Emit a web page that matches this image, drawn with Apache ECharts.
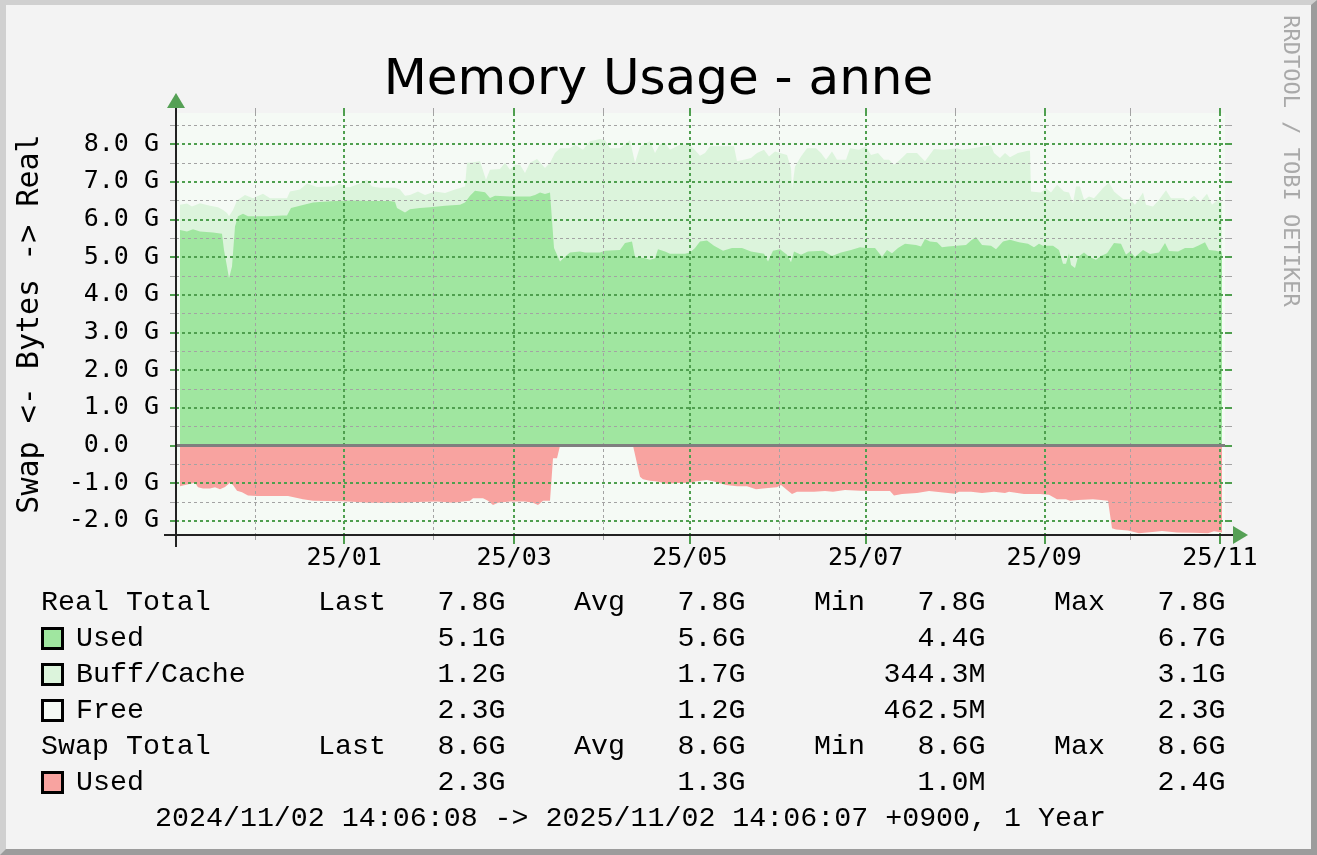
<!DOCTYPE html>
<html>
<head>
<meta charset="utf-8">
<script src="https://cdn.jsdelivr.net/npm/echarts@6/dist/echarts.min.js"></script>
<style>
html,body{margin:0;padding:0;background:#F3F3F3;}
#wrap{position:relative;width:1317px;height:855px;overflow:hidden;}
#chart{position:absolute;left:0;top:0;width:1317px;height:855px;}
#frame{position:absolute;left:0;top:0;width:1317px;height:855px;box-sizing:border-box;border-style:solid;border-width:5px 6px 6px 6px;border-color:#D0D0D0 #9C9C9C #9C9C9C #D0D0D0;pointer-events:none;}
</style>
</head>
<body>
<div id="wrap"><div id="chart"></div><div id="frame"></div></div>
<script>
// ---------------- DATA ----------------
const titleText = 'Memory Usage - anne';
const axisTitle = 'Swap <- Bytes -> Real';
const watermark = 'RRDTOOL / TOBI OETIKER';
const footerText = '2024/11/02 14:06:08 -> 2025/11/02 14:06:07 +0900, 1 Year';

// start of the period: 2024/11/02 14:06:08 +0900, x values are day offsets from it
const START_UTC = Date.UTC(2024, 10, 2, 5, 6, 8);

const majorMonths = ['2025-01', '2025-03', '2025-05', '2025-07', '2025-09', '2025-11'];
const majorLabels = ['25/01', '25/03', '25/05', '25/07', '25/09', '25/11'];
const minorMonths = ['2024-12', '2025-02', '2025-04', '2025-06', '2025-08', '2025-10'];

const yMajor = [-2, -1, 0, 1, 2, 3, 4, 5, 6, 7, 8];
const yTickLabels = ['-2.0 G', '-1.0 G', '0.0  ', '1.0 G', '2.0 G', '3.0 G', '4.0 G', '5.0 G', '6.0 G', '7.0 G', '8.0 G'];
const yMinor = [-1.5, -0.5, 0.5, 1.5, 2.5, 3.5, 4.5, 5.5, 6.5, 7.5, 8.5];

// Real memory "Used" (GiB)
const usedDay = [2.43, 4.86, 6.94, 9.37, 13.88, 17.01, 17.70, 18.74, 19.44, 20.48, 21.52, 22.56, 24.30, 26.03, 32.63, 38.18, 39.57, 40.96, 44.08, 48.59, 54.50, 61.44, 68.38, 75.32, 77.06, 77.75, 80.53, 82.26, 85.73, 89.20, 94.41, 99.62, 101.35, 103.09, 104.83, 108.30, 110.03, 111.77, 116.97, 123.92, 125.65, 127.39, 129.12, 130.86, 131.55, 132.25, 134.33, 136.06, 137.80, 141.27, 143.01, 148.21, 149.95, 155.15, 156.89, 159.32, 160.36, 163.83, 165.57, 167.30, 168.34, 170.77, 172.51, 177.72, 179.45, 181.19, 182.92, 185.35, 187.78, 190.91, 194.03, 197.50, 200.63, 205.14, 206.53, 208.26, 210.69, 213.12, 214.51, 215.55, 217.98, 220.41, 225.62, 228.74, 231.87, 235.34, 238.46, 240.54, 243.67, 246.10, 247.83, 249.57, 251.65, 254.08, 257.90, 259.63, 261.02, 262.76, 265.19, 266.92, 269.00, 272.13, 275.25, 276.99, 278.72, 280.81, 283.93, 285.67, 288.10, 290.52, 293.65, 296.77, 298.85, 300.59, 301.98, 305.45, 307.53, 308.92, 309.96, 311.00, 311.70, 313.09, 314.13, 316.21, 317.94, 320.37, 322.11, 324.19, 326.62, 329.05, 330.79, 332.18, 333.91, 336.69, 339.12, 342.24, 344.33, 345.71, 348.84, 351.27, 354.04, 355.78, 358.21, 359.60, 362.03, 364.11];
const usedVal = [5.72, 5.68, 5.74, 5.68, 5.65, 5.62, 5.19, 4.75, 4.44, 4.75, 5.81, 6.08, 6.15, 6.08, 6.08, 6.10, 6.10, 6.30, 6.36, 6.45, 6.48, 6.50, 6.49, 6.49, 6.47, 6.30, 6.18, 6.27, 6.30, 6.32, 6.36, 6.39, 6.45, 6.63, 6.76, 6.72, 6.57, 6.63, 6.61, 6.61, 6.65, 6.71, 6.67, 6.71, 6.71, 5.24, 4.88, 5.01, 5.12, 5.15, 5.12, 5.12, 5.17, 5.19, 5.37, 5.41, 5.01, 4.97, 4.93, 4.97, 5.21, 5.15, 5.09, 5.09, 5.12, 5.24, 5.41, 5.44, 5.30, 5.17, 5.24, 5.24, 5.15, 5.09, 4.88, 5.17, 5.21, 5.06, 4.86, 5.15, 5.06, 5.15, 5.17, 5.03, 5.12, 5.19, 5.26, 5.24, 5.24, 5.01, 5.19, 5.10, 5.24, 5.35, 5.32, 5.28, 5.48, 5.41, 5.39, 5.26, 5.28, 5.30, 5.32, 5.44, 5.53, 5.32, 5.30, 5.21, 5.41, 5.46, 5.39, 5.35, 5.26, 5.35, 5.30, 5.30, 5.19, 4.82, 4.82, 5.10, 4.79, 4.71, 5.00, 5.12, 5.01, 4.93, 5.03, 5.10, 5.37, 5.35, 5.06, 5.15, 5.00, 5.19, 5.08, 5.12, 5.37, 5.16, 5.15, 5.24, 5.24, 5.30, 5.39, 5.19, 5.17, 5.12];

// Top of the Buff/Cache band (Used + Buff/Cache, GiB)
const buffTopDay = [2.43, 4.86, 6.59, 9.37, 12.84, 15.62, 17.36, 18.74, 19.44, 20.83, 22.21, 24.99, 27.77, 31.24, 33.67, 39.57, 40.61, 44.08, 46.51, 49.98, 55.54, 57.97, 59.70, 61.44, 64.91, 67.34, 69.07, 71.85, 77.06, 78.79, 80.53, 82.26, 85.04, 87.47, 90.94, 94.41, 97.88, 101.35, 102.05, 103.78, 106.56, 108.64, 110.03, 113.50, 115.24, 116.97, 118.71, 120.44, 122.18, 123.92, 126.35, 129.12, 130.86, 132.59, 134.33, 137.80, 139.53, 142.31, 144.74, 148.21, 149.95, 151.68, 155.15, 158.62, 160.36, 162.10, 165.57, 167.30, 169.04, 170.77, 172.51, 175.98, 178.06, 179.80, 180.84, 182.92, 184.66, 186.39, 194.72, 195.76, 198.19, 200.63, 202.71, 205.14, 206.87, 208.96, 210.69, 213.12, 214.51, 214.86, 215.90, 217.98, 220.06, 223.19, 224.92, 226.66, 228.74, 230.48, 233.60, 234.99, 238.11, 240.54, 242.28, 244.71, 246.79, 248.52, 250.26, 252.34, 254.77, 258.24, 261.02, 264.14, 267.62, 272.13, 273.86, 277.68, 281.50, 283.93, 284.97, 287.05, 288.79, 290.52, 293.30, 296.77, 297.47, 297.81, 301.28, 303.02, 304.75, 306.84, 309.27, 311.00, 312.39, 313.43, 314.82, 316.21, 317.94, 319.68, 321.76, 322.80, 324.89, 326.62, 329.75, 332.18, 333.91, 336.69, 337.73, 340.16, 342.24, 344.67, 346.41, 350.92, 351.96, 354.39, 356.47, 358.90, 360.64, 362.72, 364.11];
const buffTopVal = [6.39, 6.42, 6.34, 6.43, 6.36, 6.32, 6.25, 6.17, 6.08, 6.25, 6.50, 6.65, 6.56, 6.68, 6.56, 6.56, 6.74, 6.79, 6.95, 6.86, 6.87, 6.95, 6.85, 6.85, 6.96, 7.05, 6.87, 6.84, 6.84, 6.79, 6.63, 6.65, 6.74, 6.65, 6.74, 6.70, 6.79, 6.87, 7.50, 7.51, 7.54, 7.05, 7.32, 7.34, 7.50, 7.32, 7.45, 7.45, 7.23, 7.50, 7.60, 7.36, 7.50, 7.76, 7.89, 7.89, 7.98, 7.85, 8.07, 8.13, 8.10, 7.89, 7.89, 8.10, 7.50, 7.93, 8.07, 7.76, 8.00, 8.03, 7.85, 7.98, 7.98, 7.94, 7.87, 7.69, 7.76, 7.94, 7.94, 7.54, 7.58, 7.63, 7.76, 7.85, 7.67, 7.80, 7.76, 7.71, 7.36, 6.79, 7.40, 7.67, 7.89, 7.89, 7.76, 7.58, 7.80, 7.58, 7.58, 7.89, 7.85, 7.94, 7.71, 7.76, 7.58, 7.58, 7.45, 7.58, 7.76, 7.76, 7.54, 7.87, 7.85, 7.89, 7.85, 7.89, 7.94, 7.96, 7.76, 7.63, 7.76, 7.65, 7.76, 7.82, 7.82, 6.74, 6.71, 6.83, 6.71, 6.92, 6.74, 6.71, 6.43, 6.87, 6.87, 6.52, 6.61, 6.56, 6.74, 6.83, 6.98, 6.74, 6.54, 6.54, 6.39, 6.71, 6.39, 6.34, 6.52, 6.77, 6.56, 6.56, 6.47, 6.63, 6.47, 6.68, 6.39, 6.52, 6.45];

// Swap "Used" (GiB, drawn below zero)
const swapDay = [2.43, 4.17, 7.64, 8.68, 10.41, 12.84, 14.58, 16.31, 18.05, 19.78, 20.83, 22.21, 23.95, 26.03, 29.16, 33.67, 39.92, 40.61, 45.12, 48.59, 59.01, 63.87, 68.38, 74.28, 79.83, 84.69, 91.63, 97.19, 100.66, 103.09, 104.13, 107.60, 109.34, 111.07, 112.81, 116.97, 122.18, 124.96, 126.69, 128.43, 130.86, 131.55, 131.90, 133.29, 134.33, 159.67, 162.10, 163.14, 165.57, 168.00, 171.47, 174.94, 179.45, 181.19, 185.35, 187.78, 191.95, 195.76, 199.24, 202.36, 206.53, 209.65, 211.04, 213.12, 214.86, 216.59, 222.49, 226.31, 229.09, 233.25, 238.46, 242.28, 248.87, 250.26, 253.04, 258.24, 262.41, 269.00, 271.43, 272.82, 276.99, 280.81, 284.97, 288.79, 290.18, 295.38, 300.94, 304.06, 306.84, 309.96, 311.35, 314.13, 319.33, 322.11, 324.54, 325.23, 325.93, 327.32, 331.48, 335.30, 340.85, 343.28, 348.49, 354.04, 359.25, 361.33, 364.11];
const swapVal = [1.08, 1.05, 0.99, 1.11, 1.14, 1.14, 1.11, 1.16, 1.10, 0.99, 1.05, 1.20, 1.24, 1.33, 1.34, 1.34, 1.34, 1.39, 1.43, 1.47, 1.48, 1.50, 1.52, 1.52, 1.52, 1.50, 1.49, 1.52, 1.49, 1.47, 1.40, 1.40, 1.47, 1.58, 1.52, 1.49, 1.49, 1.52, 1.58, 1.47, 1.47, 1.47, 0.34, 0.34, 0.01, 0.01, 0.83, 0.90, 0.94, 0.96, 1.02, 1.00, 0.99, 0.96, 0.92, 0.96, 1.05, 1.08, 1.08, 1.16, 1.13, 1.11, 1.05, 1.18, 1.29, 1.23, 1.23, 1.21, 1.23, 1.18, 1.20, 1.21, 1.21, 1.33, 1.29, 1.26, 1.21, 1.26, 1.28, 1.23, 1.23, 1.26, 1.23, 1.26, 1.23, 1.29, 1.29, 1.31, 1.43, 1.43, 1.47, 1.45, 1.43, 1.45, 1.47, 1.47, 2.20, 2.23, 2.26, 2.33, 2.29, 2.27, 2.31, 2.32, 2.33, 2.28, 2.31];

// Legend / statistics
const statHeads = ['Last', 'Avg', 'Min', 'Max'];
const realTotalStats = ['7.8G', '7.8G', '7.8G', '7.8G'];
const usedStats = ['5.1G', '5.6G', '4.4G', '6.7G'];
const buffStats = ['1.2G', '1.7G', '344.3M', '3.1G'];
const freeStats = ['2.3G', '1.2G', '462.5M', '2.3G'];
const swapTotalStats = ['8.6G', '8.6G', '8.6G', '8.6G'];
const swapUsedStats = ['2.3G', '1.3G', '1.0M', '2.4G'];

// ---------------- STYLE / LAYOUT ----------------
const DAY = 86400000;
const C_USED = '#A0E6A0', C_BUFF = '#DCF4DC', C_FREE = '#F5FAF5', C_SWAP = '#F8A3A0';
const C_GRID_MAJOR = '#4F9F4F', C_GRID_MINOR = '#A3A3A3', C_AXIS = '#222222';
const PLOT = { left: 176, right: 1225, top: 113, bottom: 535 };
const X_MIN = START_UTC + 1.041 * DAY, X_MAX = START_UTC + 365.15 * DAY;
const Y_MIN = -2.377, Y_MAX = 8.823;
const LEGEND_SIZE = 28.3;

function monthStart(s) { const p = s.split('-').map(Number); return Date.UTC(p[0], p[1] - 1, 1) - 9 * 3600000; }
const majorTs = majorMonths.map(monthStart);
const minorTs = minorMonths.map(monthStart);
const toPairs = (days, vals, sign) => days.map((d, i) => [START_UTC + d * DAY, sign * vals[i]]);

const monoFont = 'DejaVu Sans Mono';
const legendFont = 'Liberation Mono';

function timeAxis(extra) {
  return Object.assign({
    type: 'value', min: X_MIN, max: X_MAX, z: 3, scale: true,
    axisLine: { show: false, onZero: false },
    axisLabel: { show: false }, axisTick: { show: false }, splitLine: { show: false }
  }, extra);
}
function valAxis(extra) {
  return Object.assign({
    type: 'value', min: Y_MIN, max: Y_MAX, z: 3,
    axisLine: { show: false, onZero: false },
    axisLabel: { show: false }, axisTick: { show: false }, splitLine: { show: false }
  }, extra);
}

// ---------------- GRAPHIC (text, legend, axis decorations) ----------------
function txt(text, x, y, opts) {
  const o = opts || {};
  const align = o.align || 'left';
  const size = o.size || LEGEND_SIZE;
  const fam = o.family || legendFont;
  return {
    type: 'text', x: x, y: y, rotation: o.rotation || 0, z: 100, silent: true,
    style: {
      text: text, x: 0, y: 0,
      fontFamily: fam, fontSize: size,
      font: size + 'px "' + fam + '"',
      fill: o.color || '#000',
      align: align, verticalAlign: 'middle',
      textAlign: align, textVerticalAlign: 'middle'
    }
  };
}

const graphics = [];
graphics.push({ type: 'line', z: 99, silent: true, shape: { x1: PLOT.left, y1: 106, x2: PLOT.left, y2: 547 }, style: { stroke: C_AXIS, lineWidth: 2 } });
graphics.push({ type: 'line', z: 99, silent: true, shape: { x1: 164, y1: PLOT.bottom, x2: 1234, y2: PLOT.bottom }, style: { stroke: C_AXIS, lineWidth: 2 } });
graphics.push({ type: 'polygon', z: 100, silent: true, shape: { points: [[PLOT.left - 9, 108], [PLOT.left + 9, 108], [PLOT.left, 93]] }, style: { fill: '#55A055' } });
graphics.push({ type: 'polygon', z: 100, silent: true, shape: { points: [[1233, PLOT.bottom - 9], [1233, PLOT.bottom + 9], [1248, PLOT.bottom]] }, style: { fill: '#55A055' } });

graphics.push(txt(axisTitle, 30.5, 324, { family: monoFont, size: 30, align: 'center', rotation: Math.PI / 2 }));
graphics.push(txt(watermark, 1290, 161, { family: monoFont, size: 22, align: 'center', rotation: -Math.PI / 2, color: '#A9A9A9' }));

const headX = [318, 574, 814, 1054];
const valRight = [505.5, 745.5, 985.5, 1225.5];
const rows = [
  { label: 'Real Total', heads: true, stats: realTotalStats },
  { label: 'Used', box: C_USED, stats: usedStats },
  { label: 'Buff/Cache', box: C_BUFF, stats: buffStats },
  { label: 'Free', box: C_FREE, stats: freeStats },
  { label: 'Swap Total', heads: true, stats: swapTotalStats },
  { label: 'Used', box: C_SWAP, stats: swapUsedStats }
];
rows.forEach((r, i) => {
  const base = 610 + 36 * i;
  const ym = base - 7.5;
  if (r.box) {
    graphics.push({ type: 'rect', z: 100, silent: true, shape: { x: 42.5, y: base - 17.5, width: 20, height: 20 }, style: { fill: r.box, stroke: '#000', lineWidth: 3 } });
    graphics.push(txt(r.label, 76, ym));
  } else {
    graphics.push(txt(r.label, 41, ym));
  }
  if (r.heads) statHeads.forEach((h, k) => graphics.push(txt(h, headX[k], ym)));
  r.stats.forEach((v, k) => graphics.push(txt(v, valRight[k], ym, { align: 'right' })));
});
graphics.push(txt(footerText, 155, 826 - 7.5));

// ---------------- CHART ----------------
const chart = echarts.init(document.getElementById('chart'), null, { renderer: 'canvas' });
const option = {
  animation: false,
  backgroundColor: '#F3F3F3',
  title: {
    text: titleText, left: 'center', top: 51,
    textStyle: { fontFamily: 'DejaVu Sans', fontSize: 50, fontWeight: 'normal', color: '#000' }
  },
  grid: {
    left: PLOT.left, right: 1317 - PLOT.right, top: PLOT.top, bottom: 855 - PLOT.bottom,
    show: true, backgroundColor: C_FREE, borderWidth: 0
  },
  xAxis: [
    timeAxis({
      position: 'bottom',
      axisLine: { show: true, onZero: false, lineStyle: { color: C_AXIS, width: 2 } },
      axisTick: { show: true, customValues: majorTs, length: 9, lineStyle: { color: C_GRID_MAJOR, width: 2 } },
      axisLabel: {
        show: true, customValues: majorTs, margin: 11,
        formatter: v => { const i = majorTs.indexOf(+v); return i >= 0 ? majorLabels[i] : ''; },
        fontFamily: monoFont, fontSize: 25, color: '#000'
      },
      splitLine: { show: true, lineStyle: { color: C_GRID_MAJOR, width: 2, type: [3, 3] } }
    }),
    timeAxis({
      position: 'bottom',
      axisTick: { show: true, customValues: minorTs, length: 5, lineStyle: { color: C_GRID_MINOR, width: 1 } },
      splitLine: { show: true, lineStyle: { color: C_GRID_MINOR, width: 1, type: [3, 3] } }
    }),
    timeAxis({
      position: 'top',
      axisTick: { show: true, customValues: majorTs, length: 5, lineStyle: { color: C_GRID_MAJOR, width: 2 } }
    }),
    timeAxis({
      position: 'top',
      axisTick: { show: true, customValues: minorTs, length: 5, lineStyle: { color: C_GRID_MINOR, width: 1 } }
    })
  ],
  yAxis: [
    valAxis({
      position: 'left',
      axisLine: { show: true, onZero: false, lineStyle: { color: C_AXIS, width: 2 } },
      axisTick: { show: true, customValues: yMajor, length: 6, lineStyle: { color: C_GRID_MAJOR, width: 2 } },
      axisLabel: {
        show: true, customValues: yMajor, margin: 17,
        formatter: v => { const i = yMajor.indexOf(Math.round(+v)); return i >= 0 ? yTickLabels[i] : ''; },
        fontFamily: monoFont, fontSize: 25, color: '#000'
      },
      splitLine: { show: true, lineStyle: { color: C_GRID_MAJOR, width: 2, type: [3, 3] } }
    }),
    valAxis({
      position: 'left',
      axisTick: { show: true, customValues: yMinor, length: 6, lineStyle: { color: C_GRID_MINOR, width: 1 } },
      splitLine: { show: true, lineStyle: { color: C_GRID_MINOR, width: 1, type: [3, 3] } }
    }),
    valAxis({
      position: 'right',
      axisTick: { show: true, customValues: yMajor, length: 7, lineStyle: { color: C_GRID_MAJOR, width: 2 } }
    }),
    valAxis({
      position: 'right',
      axisTick: { show: true, customValues: yMinor, length: 7, lineStyle: { color: C_GRID_MINOR, width: 1 } }
    })
  ],
  series: [
    {
      name: 'Buff/Cache', type: 'line', xAxisIndex: 0, yAxisIndex: 0, z: 1,
      data: toPairs(buffTopDay, buffTopVal, 1),
      showSymbol: false, symbol: 'none', lineStyle: { width: 0, opacity: 0 },
      areaStyle: { color: C_BUFF, opacity: 1 }
    },
    {
      name: 'Used', type: 'line', xAxisIndex: 0, yAxisIndex: 0, z: 2,
      data: toPairs(usedDay, usedVal, 1),
      showSymbol: false, symbol: 'none', lineStyle: { width: 0, opacity: 0 },
      areaStyle: { color: C_USED, opacity: 1 }
    },
    {
      name: 'Swap Used', type: 'line', xAxisIndex: 0, yAxisIndex: 0, z: 2,
      data: toPairs(swapDay, swapVal, -1),
      showSymbol: false, symbol: 'none', lineStyle: { width: 0, opacity: 0 },
      areaStyle: { color: C_SWAP, opacity: 1 },
      markLine: {
        silent: true, symbol: 'none', z: 10, label: { show: false },
        lineStyle: { color: '#7F7F7F', width: 3, type: 'solid' },
        data: [{ yAxis: 0 }]
      }
    }
  ],
  graphic: graphics
};
chart.setOption(option);
</script>
</body>
</html>
